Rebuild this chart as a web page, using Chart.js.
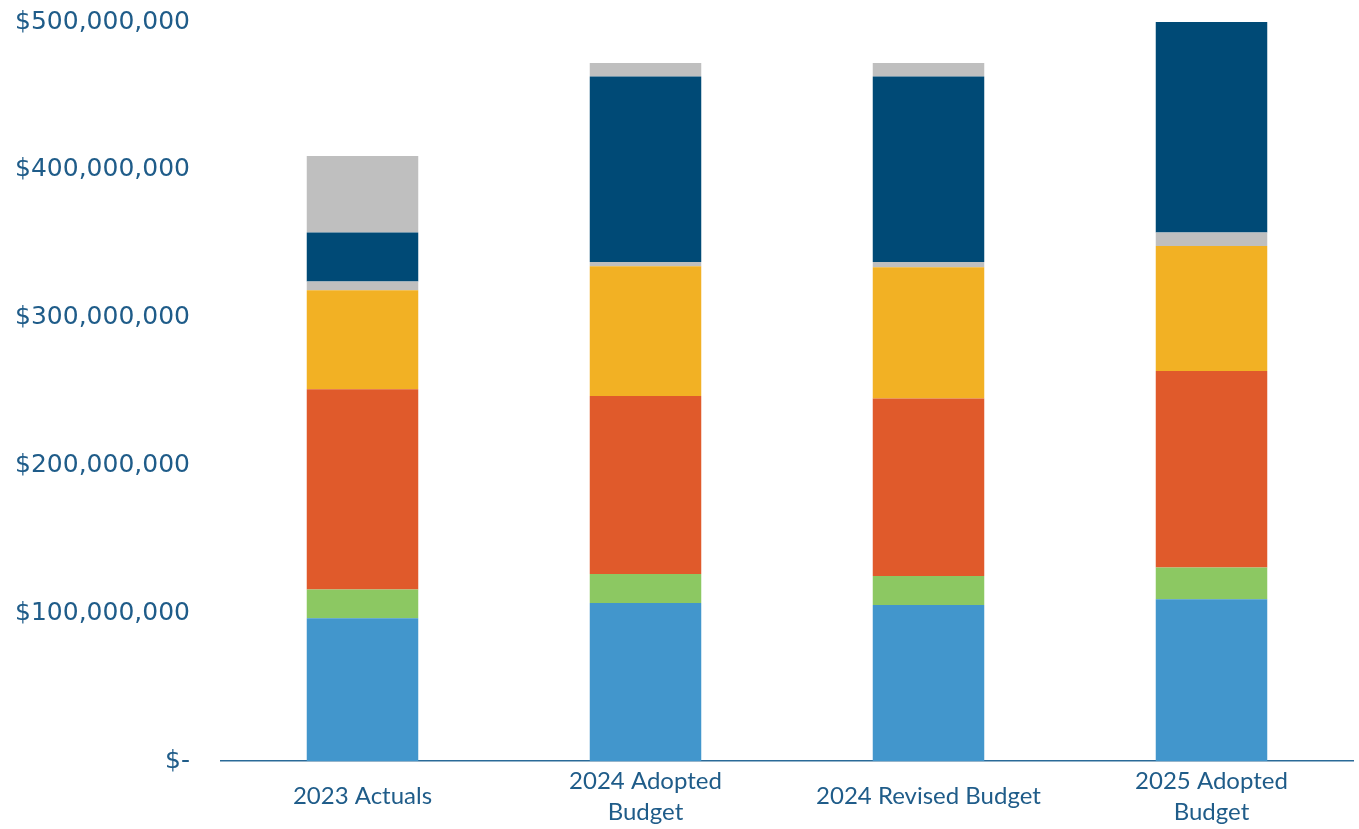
<!DOCTYPE html>
<html>
<head>
<meta charset="utf-8">
<script src="https://cdn.jsdelivr.net/npm/chart.js@4/dist/chart.umd.min.js"></script>
<style>
  html, body { margin: 0; padding: 0; background: #ffffff; }
  #wrap { width: 1359px; height: 829px; }
</style>
</head>
<body>
<div id="wrap"><canvas id="budgetChart" width="1359" height="829"></canvas></div>
<script>
// Categories along the x axis (arrays give two-line labels)
const categories = [
  "2023 Actuals",
  ["2024 Adopted", "Budget"],
  "2024 Revised Budget",
  ["2025 Adopted", "Budget"]
];

// Stacked segment values, in millions of dollars, bottom to top
const segment1 = [96.5, 106.9, 105.5, 109.4];
const segment2 = [19.6, 19.6, 19.6, 21.6];
const segment3 = [135.5, 120.4, 120.2, 132.8];
const segment4 = [66.9, 87.9, 88.8, 84.7];
const segment5 = [5.9, 2.9, 3.6, 9.1];
const segment6 = [33.2, 125.4, 125.4, 143.3];
const segment7 = [51.8, 9.2, 9.2, 0];

// Y axis ticks (millions)
const yMax = 500;
const yStep = 100;

const colors = ["#4296cc", "#8cc862", "#e05a2b", "#f2b124", "#bfbfbf", "#004a76", "#bfbfbf"];
const series = [segment1, segment2, segment3, segment4, segment5, segment6, segment7];

const axisBlue = "#1f5c89";

const money = (m) => {
  if (m === 0) {
    return "$-";
  }
  return "$" + Math.round(m * 1e6).toLocaleString("en-US");
};

new Chart(document.getElementById("budgetChart"), {
  type: "bar",
  data: {
    labels: categories,
    datasets: series.map((values, i) => ({
      label: "Segment " + (i + 1),
      data: values,
      backgroundColor: colors[i],
      borderWidth: 0,
      categoryPercentage: 1,
      barPercentage: 0.394
    }))
  },
  options: {
    responsive: false,
    animation: false,
    layout: { padding: { top: 22, right: 6, bottom: 0, left: 0 } },
    plugins: {
      legend: { display: false },
      tooltip: { enabled: false }
    },
    scales: {
      x: {
        stacked: true,
        grid: { display: false, drawTicks: false },
        border: { display: true, color: "#2a6a98", width: 1.5 },
        ticks: {
          color: axisBlue,
          font: { family: "Lato", size: 24, lineHeight: 1.31 },
          padding: 20,
          crossAlign: "center",
          maxRotation: 0,
          autoSkip: false
        },
        afterFit: (scale) => { scale.height = 68; }
      },
      y: {
        stacked: true,
        min: 0,
        max: yMax,
        grid: { display: false, drawTicks: false },
        border: { display: false },
        ticks: {
          stepSize: yStep,
          color: axisBlue,
          font: { family: "DejaVu Sans", size: 25 },
          padding: 31,
          callback: (value) => money(value)
        },
        afterFit: (scale) => {
          // fixed label gutter; tick padding should not push the plot down
          scale.width = 221;
          scale.paddingTop = 0;
          scale.paddingBottom = 0;
        }
      }
    }
  }
});
</script>
</body>
</html>
